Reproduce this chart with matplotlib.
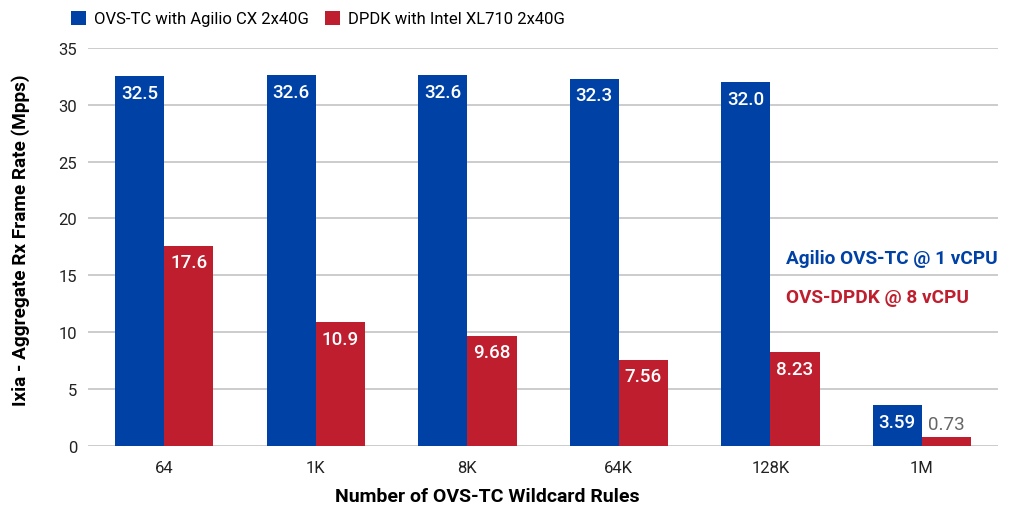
import matplotlib.pyplot as plt
import numpy as np

rules = ['64', '1K', '8K', '64K', '128K', '1M']
ovs_tc = [32.5, 32.6, 32.6, 32.3, 32.0, 3.59]
dpdk = [17.6, 10.9, 9.68, 7.56, 8.23, 0.73]
ovs_tc_labels = ['32.5', '32.6', '32.6', '32.3', '32.0', '3.59']
dpdk_labels = ['17.6', '10.9', '9.68', '7.56', '8.23', '0.73']

blue = '#0041A6'
red = '#BE1E2D'

plt.rcParams['font.family'] = ['Roboto', 'DejaVu Sans']

fig = plt.figure(figsize=(10.17, 5.1), dpi=100)
ax = fig.add_axes([0.087, 0.124, 0.894, 0.78])

x = np.arange(len(rules))
w = 0.325
b1 = ax.bar(x - w / 2, ovs_tc, w, color=blue, label='OVS-TC with Agilio CX 2x40G', zorder=3)
b2 = ax.bar(x + w / 2, dpdk, w, color=red, label='DPDK with Intel XL710 2x40G', zorder=3)

# value labels inside the bar tops (small bars get the label above)
for bars, labels in [(b1, ovs_tc_labels), (b2, dpdk_labels)]:
    for rect, lab in zip(bars, labels):
        h = rect.get_height()
        cx = rect.get_x() + rect.get_width() / 2
        if h < 2:
            ax.annotate(lab, (cx, h), xytext=(0, 3), textcoords='offset points',
                        ha='center', va='bottom', color='#666666', fontsize=13.5, zorder=4)
        else:
            ax.annotate(lab, (cx, h), xytext=(0, -5.5), textcoords='offset points',
                        ha='center', va='top', color='white', fontsize=13.5,
                        fontweight='medium', zorder=4)

ax.set_xlim(-0.5, len(rules) - 0.5)
ax.set_ylim(0, 35)
ax.set_yticks(range(0, 36, 5))
ax.set_xticks(x)
ax.set_xticklabels(rules)
ax.tick_params(length=0, labelsize=12, colors='#222222', pad=8)
ax.tick_params(axis='x', pad=10)
ax.grid(axis='y', color='#c8c8c8', linewidth=1.3, zorder=0)
for s in ax.spines.values():
    s.set_visible(False)

ax.set_xlabel('Number of OVS-TC Wildcard Rules', fontsize=14, fontweight='bold')
ax.xaxis.set_label_coords(0.439, -0.103)
ax.set_ylabel('Ixia - Aggregate Rx Frame Rate (Mpps)', fontsize=13.7, fontweight='bold')
ax.yaxis.set_label_coords(-0.064, 0.52)

ax.text(0.767, 0.472, 'Agilio OVS-TC @ 1 vCPU', transform=ax.transAxes, color=blue,
        fontsize=13.7, fontweight='bold', va='center')
ax.text(0.767, 0.374, 'OVS-DPDK @ 8 vCPU', transform=ax.transAxes, color=red,
        fontsize=13.7, fontweight='bold', va='center')

ax.legend(loc='lower left', bbox_to_anchor=(-0.032, 1.025), ncol=2, frameon=False,
          fontsize=12, handlelength=0.9, handleheight=0.9, columnspacing=1.0,
          handletextpad=0.45, borderaxespad=0.3)

fig.savefig('out.png', dpi=100)
